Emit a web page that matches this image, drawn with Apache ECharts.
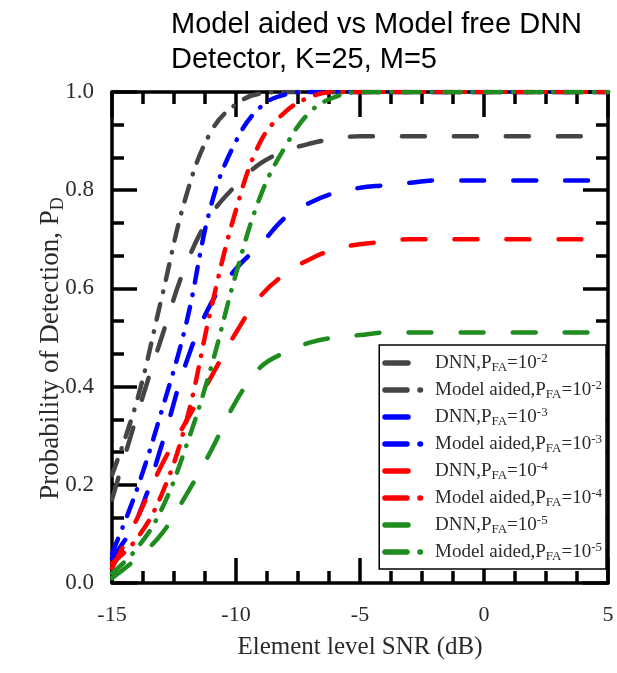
<!DOCTYPE html>
<html>
<head>
<meta charset="utf-8">
<script src="https://cdn.jsdelivr.net/npm/echarts@6/dist/echarts.min.js"></script>
<style>
  html, body { margin: 0; padding: 0; background: #fff; }
  #chart { width: 617px; height: 673px; }
</style>
</head>
<body>
<div id="chart"></div>
<script>
// --- Data ---

const snr = [-15, -14, -13, -12, -11, -10, -9, -8, -7, -6, -5, -4, -3, -2, -1, 0, 1, 2, 3, 4, 5];

// DNN detector (dashed)
const dnn2 = [0.17, 0.34, 0.50, 0.65, 0.75, 0.81, 0.855, 0.88, 0.895, 0.905, 0.91, 0.91, 0.91, 0.91, 0.91, 0.91, 0.91, 0.91, 0.91, 0.91, 0.91];
const dnn3 = [0.05, 0.13, 0.28, 0.45, 0.57, 0.64, 0.69, 0.745, 0.775, 0.795, 0.805, 0.81, 0.815, 0.82, 0.82, 0.82, 0.82, 0.82, 0.82, 0.82, 0.82];
const dnn4 = [0.03, 0.13, 0.24, 0.33, 0.42, 0.51, 0.585, 0.63, 0.66, 0.68, 0.69, 0.695, 0.70, 0.70, 0.70, 0.70, 0.70, 0.70, 0.70, 0.70, 0.70];
const dnn5 = [0.01, 0.05, 0.10, 0.18, 0.27, 0.37, 0.44, 0.47, 0.49, 0.50, 0.505, 0.51, 0.51, 0.51, 0.51, 0.51, 0.51, 0.51, 0.51, 0.51, 0.51];

// Model aided detector (dash-dot)
const aided2 = [0.22, 0.37, 0.58, 0.79, 0.92, 0.975, 0.997, 1, 1, 1, 1, 1, 1, 1, 1, 1, 1, 1, 1, 1, 1];
const aided3 = [0.06, 0.19, 0.35, 0.53, 0.77, 0.90, 0.97, 0.995, 1, 1, 1, 1, 1, 1, 1, 1, 1, 1, 1, 1, 1];
const aided4 = [0.04, 0.09, 0.18, 0.33, 0.56, 0.76, 0.90, 0.96, 0.99, 1, 1, 1, 1, 1, 1, 1, 1, 1, 1, 1, 1];
const aided5 = [0.02, 0.07, 0.15, 0.28, 0.44, 0.63, 0.79, 0.89, 0.96, 0.99, 1, 1, 1, 1, 1, 1, 1, 1, 1, 1, 1];

const pfaExp = ['-2', '-3', '-4', '-5'];
const colors = ['#454545', '#0000ff', '#ff0000', '#1e8c1e'];

// --- Helpers ---

const pairs = (ys) => snr.map((x, i) => [x, ys[i]]);

// round caps add half the width at each end of a dash
const DASHED = [23, 29];
const DASH_DOT = [16, 12, 0.5, 12];
const LEGEND_DASH_DOT = [22, 13, 0.5, 30];

const makeSeries = (name, ys, color, dash) => ({
    name: name,
    type: 'line',
    data: pairs(ys),
    smooth: 0.4,
    symbol: 'none',
    lineStyle: { color: color, width: 4.5, type: dash, cap: 'round' },
    itemStyle: { color: color }
});

const dnnSets = [dnn2, dnn3, dnn4, dnn5];
const aidedSets = [aided2, aided3, aided4, aided5];

const series = [];
const legendItems = [];
pfaExp.forEach((e, i) => {
    const n1 = 'dnn' + e;
    const n2 = 'aided' + e;
    legendItems.push({ name: n1 });
    legendItems.push({ name: n2, lineStyle: { type: LEGEND_DASH_DOT } });
    series.push(makeSeries(n1, dnnSets[i], colors[i], DASHED));
    series.push(makeSeries(n2, aidedSets[i], colors[i], DASH_DOT));
});

const legendLabel = (name) => {
    const e = name.replace(/^(dnn|aided)/, '');
    const head = name.startsWith('dnn') ? 'DNN,P' : 'Model aided,P';
    return head + '{sub|FA}=10{sup|' + e + '}';
};

// --- Chart ---

const serif = 'Liberation Serif';
const textColor = '#2a2a2a';
const frameLine = { show: true, onZero: false, lineStyle: { color: '#000', width: 3.5 } };
const majorTick = { show: true, inside: true, length: 25, lineStyle: { color: '#000', width: 3.5 } };
const minorTick = (n) => ({ show: true, splitNumber: n, length: 12, lineStyle: { color: '#000', width: 3.5 } });

const chart = echarts.init(document.getElementById('chart'));
chart.setOption({
    animation: false,
    backgroundColor: '#fff',
    title: {
        text: 'Model aided vs Model free DNN\nDetector, K=25, M=5',
        left: 166,
        top: 2,
        textStyle: { fontFamily: 'Liberation Sans', fontSize: 29, fontWeight: 'normal', color: '#000', lineHeight: 35 }
    },
    grid: { left: 112, top: 92, right: 9, bottom: 90 },
    legend: {
        data: legendItems,
        orient: 'vertical',
        right: 11,
        top: 345,
        itemWidth: 45,
        itemHeight: 14,
        itemGap: 5,
        padding: [7, 4, 6, 3],
        backgroundColor: '#fff',
        borderColor: '#000',
        borderWidth: 1.5,
        itemStyle: { opacity: 0 },
        lineStyle: { width: 5.5, cap: 'round' },
        formatter: legendLabel,
        textStyle: {
            fontFamily: serif, fontSize: 19, color: textColor,
            rich: {
                sub: { fontFamily: serif, fontSize: 13, color: textColor, padding: [9, 0, 0, 0] },
                sup: { fontFamily: serif, fontSize: 13, color: textColor, padding: [0, 0, 9, 0] }
            }
        }
    },
    xAxis: [
        {
            type: 'value', min: -15, max: 5, interval: 5,
            axisLine: frameLine, axisTick: majorTick, minorTick: minorTick(4), splitLine: { show: false },
            axisLabel: { fontFamily: serif, fontSize: 22, color: textColor, margin: 21 },
            name: 'Element level SNR (dB)',
            nameLocation: 'middle',
            nameGap: 52,
            nameMoveOverlap: false,
            nameTextStyle: { fontFamily: serif, fontSize: 25, color: textColor }
        },
        {
            type: 'value', min: -15, max: 5, interval: 5, position: 'top',
            axisLine: frameLine, axisTick: majorTick, minorTick: minorTick(4), splitLine: { show: false },
            axisLabel: { show: false }
        }
    ],
    yAxis: [
        {
            type: 'value', min: 0, max: 1, interval: 0.2,
            axisLine: frameLine, axisTick: majorTick, minorTick: minorTick(3), splitLine: { show: false },
            axisLabel: { fontFamily: serif, fontSize: 23, color: textColor, margin: 18, formatter: (v) => v.toFixed(1) },
            name: 'Probability of Detection, P{sub|D}',
            nameLocation: 'middle',
            nameGap: 45,
            nameMoveOverlap: false,
            nameTextStyle: {
                fontFamily: serif, fontSize: 27, color: textColor,
                padding: [0, 22, 0, 0],
                rich: { sub: { fontFamily: serif, fontSize: 18, color: textColor, padding: [14, 0, 0, 0] } }
            }
        },
        {
            type: 'value', min: 0, max: 1, interval: 0.2, position: 'right',
            axisLine: frameLine, axisTick: majorTick, minorTick: minorTick(3), splitLine: { show: false },
            axisLabel: { show: false }
        }
    ],
    series: series
});
</script>
</body>
</html>
